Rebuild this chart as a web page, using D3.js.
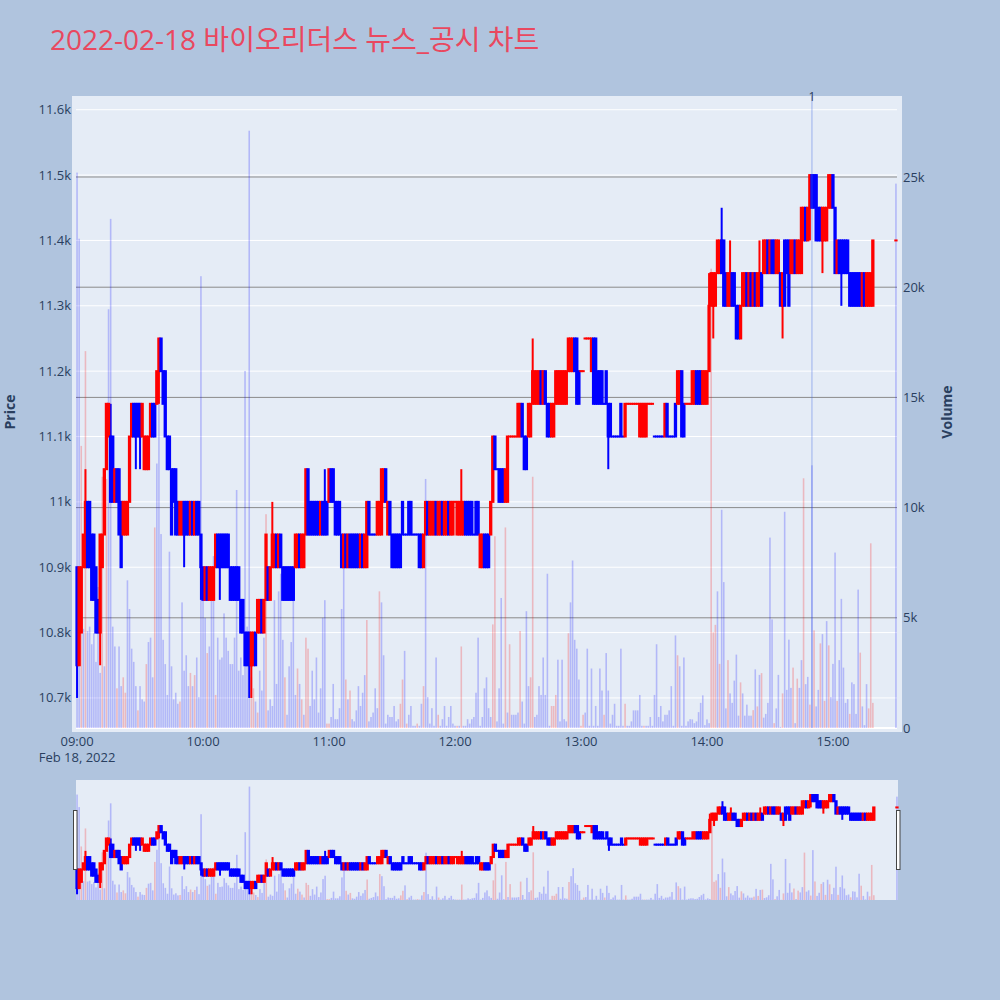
<!DOCTYPE html>
<html><head><meta charset="utf-8">
<script src="https://cdn.jsdelivr.net/npm/d3@7"></script>
<style>body{margin:0;background:#b0c4de;}svg{display:block}</style>
</head><body>
<svg id="chart" width="1000" height="1000"></svg>
<script>
const titleText = "2022-02-18 바이오리더스 뉴스_공시 차트";
const tradeDate = "2022-02-18";
const sessionStart = "09:00";
const closingAuctionTime = "15:30";

const opens = [
10900,10750,10800,10900,10900,11000,11000,10950,10950,10900,
10850,10800,10900,10950,11050,11100,11100,11100,11000,11050,
11050,11000,10950,10950,10950,11000,11100,11150,11150,11150,
11150,11100,11050,11050,11050,11100,11150,11150,11150,11200,
11250,11200,11200,11100,11100,11050,11050,11050,11000,10950,
10950,11000,11000,11000,10950,11000,10950,11000,11000,10950,
10900,10850,10900,10850,10850,10850,10900,10950,10950,10950,
10950,10950,10950,10900,10900,10900,10900,10900,10850,10850,
10800,10800,10800,10750,10750,10800,10800,10800,10850,10800,
10850,10900,10850,10900,10900,10950,10900,10950,10900,10900,
10900,10900,10900,10900,10900,10900,10950,10900,10900,10950,
11050,11000,11000,11000,11000,11000,10950,11000,11000,11000,
11000,11050,11050,11000,11000,11000,10950,10900,10950,10900,
10950,10950,10950,10950,10950,10900,10950,10900,10900,11000,
10950,10950,10950,10950,10950,10950,11000,11050,10950,11000,
10950,10950,10950,10950,10950,11000,10950,10950,11000,11000,
10950,10950,10950,10950,10950,10900,10950,11000,10950,10950,
10950,11000,10950,10950,11000,10950,10950,11000,10950,10950,
11000,10950,10950,10950,10950,11000,11000,11000,11000,10950,
11000,11000,10900,10900,10950,10950,10950,10950,11000,11100,
11050,11050,11050,11050,11000,11000,11100,11100,11100,11100,
11100,11100,11150,11100,11100,11100,11100,11150,11150,11150,
11150,11200,11150,11200,11150,11150,11100,11100,11150,11150,
11150,11150,11150,11150,11200,11200,11200,11250,11250,11200,
11200,11200,11250,11250,11250,11200,11250,11250,11200,11200,
11200,11150,11200,11150,11150,11100,11100,11100,11100,11150,
11100,11100,11150,11150,11150,11150,11150,11150,11100,11100,
11100,11100,11150,11150,11150,11100,11100,11100,11100,11100,
11100,11150,11100,11100,11100,11150,11150,11150,11200,11150,
11150,11150,11150,11150,11150,11200,11200,11200,11150,11150,
11150,11200,11300,11300,11300,11350,11350,11400,11400,11350,
11300,11300,11350,11350,11300,11300,11250,11300,11300,11350,
11300,11350,11300,11350,11300,11300,11350,11350,11350,11400,
11350,11400,11400,11350,11350,11350,11300,11400,11400,11400,
11350,11350,11400,11350,11350,11350,11400,11450,11400,11450,
11500,11500,11500,11450,11450,11400,11400,11400,11450,11450,
11500,11450,11350,11400,11400,11400,11400,11400,11350,11350,
11350,11350,11350,11350,11300,11350,11300,11300,11300,11300,
11400];

const closes = [
10750,10900,10900,10950,11000,10900,10900,10850,10850,10800,
10800,10950,10950,11050,11150,11150,11000,11000,11050,11000,
10950,10900,11000,11000,11000,11100,11150,11100,11100,11100,
11100,11150,11100,11100,11100,11150,11100,11100,11200,11250,
11200,11150,11100,11050,11050,10950,11000,10950,10950,11000,
11000,10950,10950,10950,11000,10950,11000,10950,10950,10900,
10850,10900,10850,10900,10900,10900,10950,10900,10900,10900,
10900,10900,10900,10850,10850,10850,10850,10850,10800,10800,
10750,10750,10750,10800,10800,10750,10850,10850,10800,10850,
10950,10850,10900,10950,10950,10900,10950,10900,10850,10850,
10850,10850,10850,10850,10950,10950,10900,10950,10950,11050,
10950,10950,10950,10950,10950,10950,11000,10950,10950,10950,
11050,11000,11000,10950,10950,10950,10900,10950,10900,10950,
10900,10900,10900,10900,10900,10950,10900,10950,11000,10950,
10950,10950,10950,11000,11000,11050,11050,11000,11000,10950,
10900,10900,10900,10900,10900,10950,10950,10950,10950,10950,
10950,10950,10950,10900,10900,10950,11000,10950,11000,11000,
11000,10950,11000,11000,10950,11000,11000,10950,11000,11000,
11000,11000,11000,11000,11000,10950,10950,10950,10950,10950,
10950,10950,10950,10950,10900,10900,10900,11000,11100,11050,
11050,11000,11000,11000,11050,11100,11100,11100,11100,11100,
11150,11150,11100,11050,11050,11150,11150,11200,11200,11200,
11200,11150,11200,11150,11100,11100,11150,11150,11200,11200,
11200,11200,11200,11200,11250,11250,11250,11200,11150,11150,
11200,11200,11250,11250,11250,11250,11150,11150,11150,11150,
11150,11150,11150,11100,11100,11100,11100,11100,11100,11100,
11100,11150,11150,11150,11150,11150,11150,11150,11150,11150,
11150,11150,11150,11150,11150,11100,11100,11100,11100,11100,
11150,11100,11100,11100,11100,11100,11200,11200,11100,11100,
11150,11150,11150,11200,11200,11150,11150,11150,11200,11200,
11200,11300,11350,11350,11350,11400,11400,11350,11300,11300,
11350,11350,11300,11300,11250,11250,11300,11350,11350,11300,
11350,11300,11350,11300,11350,11350,11300,11400,11400,11350,
11400,11350,11350,11400,11400,11300,11350,11300,11350,11300,
11400,11400,11350,11400,11400,11450,11450,11400,11450,11500,
11450,11450,11400,11400,11400,11450,11450,11450,11500,11500,
11450,11350,11400,11350,11350,11350,11350,11350,11300,11300,
11300,11300,11300,11300,11350,11300,11350,11350,11350,11400,
11400];

// [candle index, high] where the high sits above the body
const upperWicks = [[4,11050],[16,11150],[93,11000],[118,11050],[183,11050],[217,11250],[301,11350],[307,11450],[311,11400],[325,11400]];
// [candle index, low] where the low sits below the body
const lowerWicks = [[0,10700],[11,10750],[28,11050],[30,11050],[39,11150],[51,10900],[59,10850],[68,10850],[82,10700],[83,10700],[253,11050],[303,11250],[336,11250],[349,11400],[355,11350],[364,11300]];

const volumes = [
25200,22200,12800,4500,17100,4400,4600,3800,4300,3000,
6400,2500,11400,2800,11300,19000,23100,4600,3700,1800,
3700,1900,2300,1600,6700,5400,3600,3000,1900,800,
1900,1300,1200,2900,3900,4100,2300,9100,12000,14900,
8800,4000,2900,1500,8000,2800,1300,1600,1100,1200,
5700,2600,3300,1900,2500,1900,2400,3200,1400,20500,
6400,5000,3400,3700,6500,7800,1500,4100,3100,3200,
5200,4100,3500,2900,2900,4100,10800,2600,3200,2400,
16200,4600,27100,2300,1800,1200,700,2600,1700,4100,
9700,800,1300,1000,5800,2000,6200,7000,4000,2300,
600,2800,3900,6300,1500,2700,2000,1300,600,4100,
3600,1000,2600,1300,3200,700,1800,5000,5800,200,
200,500,2000,400,400,900,5400,7300,2200,1300,
1700,400,300,800,1900,1000,1600,2400,4900,300,
500,700,1800,900,6200,5700,3300,200,600,500,
500,1000,300,400,1100,2200,3500,200,600,1000,
100,100,200,100,1100,1900,11300,1400,200,900,
100,3200,600,100,400,1000,100,500,1000,200,
100,100,100,3700,100,100,400,200,400,500,
1600,4100,100,500,1800,2300,900,500,4700,8700,
300,1800,5900,200,9100,700,3800,600,600,600,
700,4400,1200,200,5300,1900,2300,11400,500,600,
1900,1500,3200,1500,7000,100,1000,1000,1500,3100,
300,3100,400,300,4300,5700,7600,4000,3600,2200,
100,600,700,3600,100,2700,100,1000,100,2700,
1700,600,3400,1700,200,600,1100,100,100,3600,
100,1100,100,100,300,800,800,800,1500,100,
100,100,100,500,100,1500,3800,500,1000,300,
600,600,800,1900,100,4200,3300,2800,100,3200,
100,300,400,390,220,300,720,1140,1480,130,
390,220,20840,4340,4680,6200,2910,9900,6620,890,
3080,1570,1140,2150,3330,560,2070,1570,560,1060,
560,560,810,2660,980,2410,2490,470,640,1140,
8640,4930,220,890,2410,50,1570,9810,1730,4010,
1820,2740,220,2240,1820,3080,11330,1990,2320,1060,
11920,4430,980,1730,3840,4260,1230,4850,3750,1400,
2910,7960,1230,3080,5860,2740,1140,1310,640,2070,
1990,640,6280,3420,980,130,1990,890,8380,1140,
24700];

const redVolumeIndex = [2,4,12,14,19,22,23,29,33,37,49,54,56,62,66,83,84,86,90,
99,105,107,109,110,119,120,128,130,138,144,154,155,157,162,165,172,181,183,
198,199,204,206,211,216,217,226,227,228,234,240,241,251,261,270,286,
302,303,304,306,310,316,322,324,326,332,336,341,343,346,349,351,354,356,358,362,368,373,377,378,379];

const priceTicks = [10700,10800,10900,11000,11100,11200,11300,11400,11500,11600];
const volumeTicks = [0,5000,10000,15000,20000,25000];
const timeTicks = ["09:00","10:00","11:00","12:00","13:00","14:00","15:00"];
const newsTimes = ["14:50"];
const newsLabels = ["1"];

// ---------- build records ----------
const parse = d3.timeParse("%Y-%m-%d %H:%M");
const t0 = parse(tradeDate + " " + sessionStart);
const tEnd = parse(tradeDate + " " + closingAuctionTime);
const N = opens.length;
const upMap = new Map(upperWicks), loMap = new Map(lowerWicks);
const redSet = new Set(redVolumeIndex);
let prevClose = null, prevUp = true;
const data = opens.map((o, i) => {
  const c = closes[i];
  let up;
  if (c > o) up = true; else if (c < o) up = false;
  else if (prevClose !== null && c !== prevClose) up = c > prevClose;
  else up = prevUp;
  prevClose = c; prevUp = up;
  return {
    t: i < N - 1 ? d3.timeMinute.offset(t0, i) : tEnd,
    o, c,
    h: upMap.has(i) ? upMap.get(i) : Math.max(o, c),
    l: loMap.has(i) ? loMap.get(i) : Math.min(o, c),
    v: volumes[i], up, vRed: redSet.has(i)
  };
});

// ---------- layout ----------
const svg = d3.select("#chart");
const FONT = "'Open Sans', 'Noto Sans CJK KR', sans-serif";
const INK = "#2a3f5f";
svg.append("rect").attr("width", 1000).attr("height", 1000).attr("fill", "#b0c4de");

const M = {l: 76, r: 897, t: 96, b: 728};
const S = {l: 76, r: 898, t: 780, b: 900};

const x = d3.scaleTime()
  .domain([d3.timeSecond.offset(t0, -30), d3.timeSecond.offset(tEnd, 30)])
  .range([M.l, M.r]);
const xs = x.copy().range([S.l, S.r]);
const yP = d3.scaleLinear().domain([10654, 11621]).range([M.b, M.t]);
const yV = d3.scaleLinear().domain([0, 28675]).range([M.b, M.t]);
const yPs = yP.copy().range([S.b, S.t]);
const yVs = yV.copy().range([S.b, S.t]);

// title
svg.append("text").attr("x", 50).attr("y", 50).text(titleText)
  .attr("font-family", FONT).attr("font-size", 28).attr("fill", "#e9485f");

// plot background
svg.append("rect").attr("x", 72).attr("y", M.t).attr("width", 902 - 72).attr("height", 732 - M.t).attr("fill", "#e5ecf6");

const fmtK = d3.format("~s");
const gGrid = svg.append("g");
priceTicks.forEach(p => {
  gGrid.append("line").attr("x1", M.l).attr("x2", M.r).attr("y1", yP(p)).attr("y2", yP(p))
    .attr("stroke", "#ffffff").attr("stroke-width", 1);
  svg.append("text").attr("x", 71).attr("y", yP(p)).attr("dy", "0.35em").attr("text-anchor", "end")
    .attr("font-family", FONT).attr("font-size", 13).attr("fill", INK).text(fmtK(p));
});
volumeTicks.forEach(v => {
  if (v === 0) {
    gGrid.append("line").attr("x1", M.l).attr("x2", M.r).attr("y1", yV(v)).attr("y2", yV(v))
      .attr("stroke", "#ffffff").attr("stroke-width", 2);
  } else {
    gGrid.append("line").attr("x1", M.l).attr("x2", M.r).attr("y1", yV(v)).attr("y2", yV(v))
      .attr("stroke", "#8a8a8a").attr("stroke-width", 1);
  }
  svg.append("text").attr("x", 903).attr("y", yV(v)).attr("dy", "0.35em").attr("text-anchor", "start")
    .attr("font-family", FONT).attr("font-size", 13).attr("fill", INK).text(v === 0 ? "0" : fmtK(v));
});

timeTicks.forEach(s => {
  const t = parse(tradeDate + " " + s);
  svg.append("text").attr("x", x(t)).attr("y", 746).attr("text-anchor", "middle")
    .attr("font-family", FONT).attr("font-size", 13).attr("fill", INK).text(d3.timeFormat("%H:%M")(t));
});
svg.append("text").attr("x", x(t0)).attr("y", 762).attr("text-anchor", "middle")
  .attr("font-family", FONT).attr("font-size", 13).attr("fill", INK).text(d3.timeFormat("%b %-d, %Y")(t0));

svg.append("text").attr("transform", `translate(15,${(M.t + M.b) / 2}) rotate(-90)`).attr("text-anchor", "middle")
  .attr("font-family", FONT).attr("font-size", 14).attr("font-weight", "bold").attr("fill", INK).text("Price");
svg.append("text").attr("transform", `translate(952,${(M.t + M.b) / 2}) rotate(-90)`).attr("text-anchor", "middle")
  .attr("font-family", FONT).attr("font-size", 14).attr("font-weight", "bold").attr("fill", INK).text("Volume");

function drawVolume(g, xx, yy, w) {
  g.selectAll("rect.vol").data(data).join("rect").attr("class", "vol")
    .attr("x", d => xx(d.t) - w / 2).attr("width", w)
    .attr("y", d => yy(d.v)).attr("height", d => yy(0) - yy(d.v))
    .attr("fill", d => d.vRed ? "#ff0000" : "#0000ff").attr("fill-opacity", 0.22);
}
function drawCandles(g, xx, yy, bw) {
  g.selectAll("line.wick").data(data).join("line").attr("class", "wick")
    .attr("x1", d => xx(d.t)).attr("x2", d => xx(d.t))
    .attr("y1", d => yy(d.h)).attr("y2", d => yy(d.l))
    .attr("stroke", d => d.up ? "#ff0000" : "#0000ff").attr("stroke-width", 2);
  g.selectAll("rect.body").data(data).join("rect").attr("class", "body")
    .attr("x", d => xx(d.t) - bw / 2).attr("width", bw)
    .attr("y", d => yy(Math.max(d.o, d.c)))
    .attr("height", d => Math.max(0.01, yy(Math.min(d.o, d.c)) - yy(Math.max(d.o, d.c))))
    .attr("fill", d => d.up ? "#ff0000" : "#0000ff")
    .attr("stroke", d => d.up ? "#ff0000" : "#0000ff").attr("stroke-width", 2);
}

const gMain = svg.append("g");
drawVolume(gMain.append("g"), x, yV, 1.6);
drawCandles(gMain.append("g"), x, yP, 1.3);

newsTimes.forEach((s, i) => {
  const t = parse(tradeDate + " " + s);
  svg.append("line").attr("x1", x(t)).attr("x2", x(t)).attr("y1", M.t).attr("y2", M.b)
    .attr("stroke", "#4169e1").attr("stroke-opacity", 0.45).attr("stroke-width", 1);
  svg.append("text").attr("x", x(t)).attr("y", 101).attr("text-anchor", "middle")
    .attr("font-family", FONT).attr("font-size", 12).attr("fill", INK).text(newsLabels[i]);
});

svg.append("rect").attr("x", S.l).attr("y", S.t).attr("width", S.r - S.l).attr("height", S.b - S.t).attr("fill", "#e5ecf6");
const gS = svg.append("g");
drawVolume(gS.append("g"), xs, yVs, 1.6);
drawCandles(gS.append("g"), xs, yPs, 1.3);
[S.l - 2.5, S.r - 1.5].forEach(hx => {
  svg.append("rect").attr("x", hx).attr("y", 810.5).attr("width", 3.5).attr("height", 59)
    .attr("fill", "#ffffff").attr("stroke", "#444").attr("stroke-width", 1);
});
</script>
</body></html>
